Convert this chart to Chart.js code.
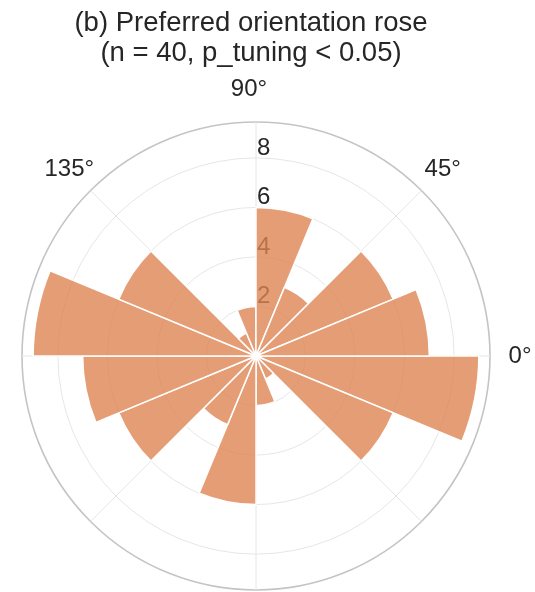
<!DOCTYPE html>
<html>
<head>
<meta charset="utf-8">
<title>Preferred orientation rose</title>
<script src="https://cdn.jsdelivr.net/npm/chart.js@4.4.1/dist/chart.umd.min.js"></script>
<style>
  html, body { margin: 0; padding: 0; background: #fff; }
  #wrap { width: 535px; height: 592px; }
</style>
</head>
<body>
<div id="wrap"><canvas id="rose" width="535" height="592"></canvas></div>
<script>
// orientation bins, degrees counter-clockwise from east, 22.5 deg wide
const binStarts = [0, 22.5, 45, 67.5, 90, 112.5, 135, 157.5, 180, 202.5, 225, 247.5, 270, 292.5, 315, 337.5];
const binCounts = [7, 6, 3, 6, 2, 1, 6, 9, 7, 6, 3, 6, 2, 1, 6, 9];
const radialTicks = [2, 4, 6, 8];
const radialMax = 9.45;
const thetaLabels = ['0°', '45°', '90°', '135°'];
const thetaAngles = [0, 45, 90, 135];
const titleLines = ['(b) Preferred orientation rose', '(n = 40, p_tuning < 0.05)'];

const FONT = "'Liberation Sans', Arial, sans-serif";
const TEXT = '#262626';

// chart.js sweeps clockwise from the start angle, so feed bins in reverse
const cwLabels = binStarts.slice().reverse().map(b => b + '°');
const cwCounts = binCounts.slice().reverse();

const roseText = {
  id: 'roseText',
  beforeDatasetsDraw(chart) {
    // radial tick labels sit under the bars
    const r = chart.scales.r;
    const ctx = chart.ctx;
    ctx.save();
    ctx.font = '24px ' + FONT;
    ctx.fillStyle = TEXT;
    ctx.textAlign = 'left';
    ctx.textBaseline = 'alphabetic';
    radialTicks.forEach(v => {
      const d = r.getDistanceFromCenterForValue(v);
      ctx.fillText(String(v), r.xCenter + 1, r.yCenter - d - 3);
    });
    ctx.restore();
  },
  afterDraw(chart) {
    const r = chart.scales.r;
    const ctx = chart.ctx;
    ctx.save();
    ctx.fillStyle = TEXT;
    ctx.textAlign = 'center';
    ctx.textBaseline = 'middle';

    ctx.font = '24px ' + FONT;
    const dist = r.drawingArea + 30;
    thetaLabels.forEach((lab, i) => {
      const a = thetaAngles[i] * Math.PI / 180;
      let x = r.xCenter + dist * Math.cos(a);
      let y = r.yCenter - dist * Math.sin(a);
      if (thetaAngles[i] === 90) { x -= 7; y -= 3; } // top label sits a bit left/up
      ctx.fillText(lab, x, y);
    });

    ctx.font = '27.5px ' + FONT;
    titleLines.forEach((line, i) => {
      ctx.fillText(line, 251, 23 + i * 30);
    });
    ctx.restore();
  }
};

new Chart(document.getElementById('rose'), {
  type: 'polarArea',
  data: {
    labels: cwLabels,
    datasets: [{
      data: cwCounts,
      backgroundColor: 'rgba(221,132,82,0.8)',
      borderColor: '#ffffff',
      borderWidth: 1.5
    }]
  },
  options: {
    responsive: false,
    animation: false,
    layout: { padding: { left: 22, right: 44, top: 122, bottom: 2 } },
    plugins: {
      legend: { display: false },
      title: { display: false },
      tooltip: { enabled: false }
    },
    scales: {
      r: {
        min: 0,
        max: radialMax,
        startAngle: 90,
        afterBuildTicks: s => { s.ticks = [0, ...radialTicks, radialMax].map(v => ({ value: v })); },
        ticks: { display: false },
        pointLabels: { display: false },
        grid: {
          circular: true,
          color: c => c.tick && c.tick.value === radialMax ? '#c4c4c4' : '#e6e6e6',
          lineWidth: c => c.tick && c.tick.value === radialMax ? 1.6 : 1
        },
        angleLines: {
          display: true,
          color: c => c.index % 2 === 0 ? '#e6e6e6' : 'rgba(0,0,0,0)',
          lineWidth: 1
        }
      }
    }
  },
  plugins: [roseText]
});
</script>
</body>
</html>
